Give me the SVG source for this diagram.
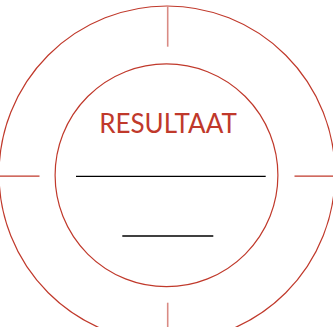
<svg xmlns="http://www.w3.org/2000/svg" width="333" height="327" viewBox="0 0 333 327">
<style>
.ring{fill:none;stroke:#c0392b;stroke-width:1.2}
.tick{stroke:#c0392b;stroke-width:1.2}
.tickv{stroke:#d98b84;stroke-width:1.6}
.blank{stroke:#000;stroke-width:1.3}
.title{font-family:Lato,"Open Sans",sans-serif;font-size:26px;fill:#c0392b;text-anchor:middle}
</style>
<rect width="333" height="327" fill="#fff"/>
<g id="outer-ring"><circle class="ring" cx="167" cy="174" r="168"/></g>
<g id="inner-ring"><circle class="ring" cx="166.5" cy="175.3" r="111.4"/></g>
<g id="connectors">
<line class="tickv" x1="167.7" y1="6" x2="167.7" y2="46.7"/>
<line class="tickv" x1="167.7" y1="302.7" x2="167.7" y2="327"/>
<line class="tick" x1="0" y1="176.2" x2="39.5" y2="176.2"/>
<line class="tick" x1="294.5" y1="176.2" x2="333" y2="176.2"/>
</g>
<g id="label">
<text class="title" x="168" y="132.5">RESULTAAT</text>
<line class="blank" x1="76" y1="176.3" x2="265.7" y2="176.3"/>
<line class="blank" x1="122.3" y1="236" x2="213.3" y2="236"/>
</g>
</svg>
